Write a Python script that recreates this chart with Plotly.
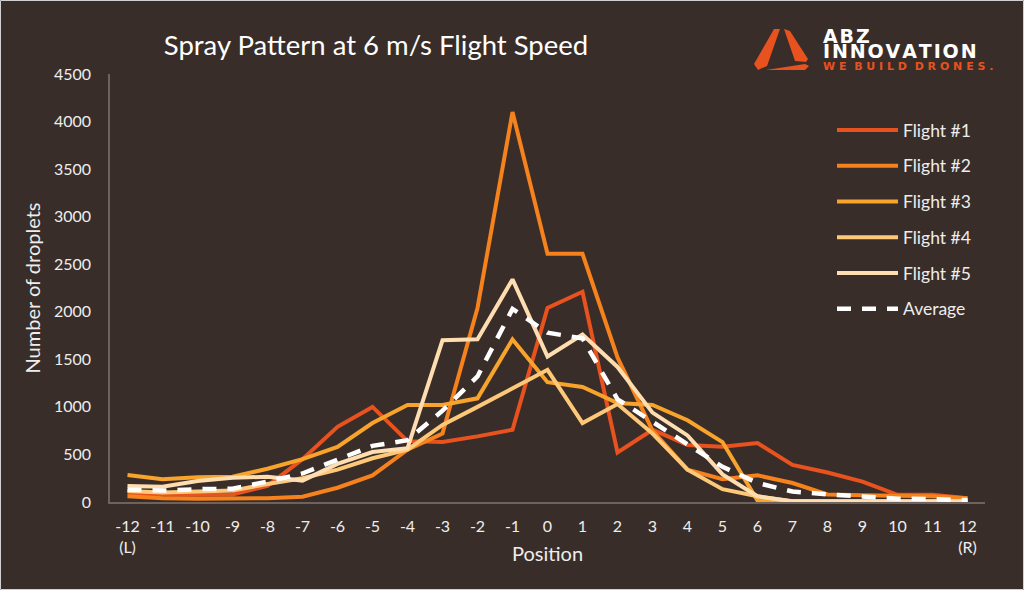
import plotly.graph_objects as go

positions = list(range(-12, 13))
tick_text = ["-12<br>(L)"] + [str(p) for p in range(-11, 12)] + ["12<br>(R)"]

flight_1 = [90, 75, 75, 80, 170, 450, 790, 1000, 640, 630, 690, 760, 2040,
            2210, 520, 760, 600, 580, 620, 390, 310, 215, 75, 75, 40]
flight_2 = [60, 40, 35, 35, 40, 55, 150, 280, 550, 720, 2040, 4100, 2610,
            2610, 1520, 750, 340, 240, 280, 200, 80, 70, 70, 60, 40]
flight_3 = [285, 240, 260, 265, 350, 450, 580, 830, 1020, 1020, 1090, 1710, 1260,
            1210, 1040, 1020, 860, 630, 15, 5, 5, 5, 5, 5, 5]
flight_4 = [115, 100, 110, 120, 190, 250, 340, 460, 550, 810, 1000, 1200, 1390,
            830, 1030, 720, 340, 135, 60, 5, 5, 5, 5, 5, 5]
flight_5 = [168, 160, 220, 255, 265, 225, 400, 525, 565, 1700, 1710, 2340, 1530,
            1760, 1420, 940, 700, 290, 60, 8, 8, 8, 8, 8, 8]
average = [130, 120, 135, 140, 215, 300, 445, 590, 650, 960, 1320, 2030, 1780,
           1720, 1080, 840, 600, 370, 200, 110, 80, 60, 35, 30, 20]

series = [
    ("Flight #1", flight_1, "#E8521E"),
    ("Flight #2", flight_2, "#F5821C"),
    ("Flight #3", flight_3, "#F8A42C"),
    ("Flight #4", flight_4, "#FDC878"),
    ("Flight #5", flight_5, "#FEDDB0"),
]

BG = "#392D29"
AXIS = "#6E625E"
TEXT = "#EDEDED"
FONT = "Lato"

# plot area in pixels (figure is 1024x590)
ML, MR, MT, MB = 110, 39, 74, 88
PW = 1024 - ML - MR
PH = 590 - MT - MB


def px(x, y):
    # pixel -> paper coords
    return (x - ML) / PW, (590 - MB - y) / PH


def path(points):
    pts = [px(x, y) for x, y in points]
    return "M " + " L ".join(f"{a:.4f},{b:.4f}" for a, b in pts) + " Z"


fig = go.Figure()
for i, (name, vals, color) in enumerate(series):
    fig.add_trace(go.Scatter(
        x=positions, y=vals, name=name, mode="lines",
        line=dict(color=color, width=4), legendgroup=f"g{i}",
    ))
fig.add_trace(go.Scatter(
    x=positions, y=average, name="Average", mode="lines",
    line=dict(color="#FFFFFF", width=4.5, dash="14px,11px"), legendgroup="avg",
))

fig.update_xaxes(
    range=[-12.5, 12.5], tickvals=positions, ticktext=tick_text,
    showgrid=False, zeroline=False, showline=True, linecolor=AXIS, linewidth=1.5,
    tickfont=dict(color=TEXT, size=16, family=FONT),
    ticks="", ticklen=0, ticklabelstandoff=9,
)
fig.update_yaxes(
    range=[0, 4500], dtick=500, showgrid=False, zeroline=False,
    showline=True, linecolor=AXIS, linewidth=1.5,
    tickfont=dict(color=TEXT, size=16, family=FONT), ticks="", ticklabelstandoff=14,
    title=dict(text="Number of droplets", font=dict(color=TEXT, size=20, family=FONT), standoff=8),
)

# logo: triangle made of three pieces
logo_color = "#E8521E"
pieces = [
    [(774, 29), (780, 29), (767, 66), (758, 70), (754, 64)],
    [(784, 29), (790, 31), (808, 59), (806, 62), (795, 61)],
    [(766, 70), (805, 64), (809, 66), (805, 70)],
]
shapes = [dict(type="path", path=path(p), xref="paper", yref="paper",
               fillcolor=logo_color, line=dict(width=0)) for p in pieces]
# thin light frame around the whole picture
shapes.append(dict(type="rect", xref="paper", yref="paper",
                   x0=px(0.5, 0)[0], x1=px(1023.5, 0)[0],
                   y0=px(0, 589.5)[1], y1=px(0, 0.5)[1],
                   line=dict(color="#D0D0D0", width=1)))

HS = "\u200a"  # hair space to widen the logo lettering a little
annotations = []
lx, ly = px(821, 36)
annotations.append(dict(text="<b>" + HS.join("ABZ") + "</b>", x=lx, y=ly,
                        xref="paper", yref="paper", xanchor="left", yanchor="middle",
                        showarrow=False,
                        font=dict(color="#FFFFFF", size=19, family="DejaVu Sans")))
lx, ly = px(821, 51)
annotations.append(dict(text="<b>" + HS.join("INNOVATION") + "</b>", x=lx, y=ly,
                        xref="paper", yref="paper", xanchor="left", yanchor="middle",
                        showarrow=False,
                        font=dict(color="#FFFFFF", size=19, family="DejaVu Sans")))
lx, ly = px(821, 66)
annotations.append(dict(text="<b>W E  B U I L D  D R O N E S .</b>", x=lx, y=ly,
                        xref="paper", yref="paper", xanchor="left", yanchor="middle",
                        showarrow=False,
                        font=dict(color=logo_color, size=11, family="DejaVu Sans")))
lx, ly = px(547, 553)
annotations.append(dict(text="Position", x=lx, y=ly, xref="paper", yref="paper",
                        xanchor="center", yanchor="middle", showarrow=False,
                        font=dict(color=TEXT, size=20, family=FONT)))

fig.update_layout(
    width=1024, height=590,
    margin=dict(l=ML, r=MR, t=MT, b=MB),
    paper_bgcolor=BG, plot_bgcolor=BG,
    title=dict(text="Spray Pattern at 6 m/s Flight Speed", x=376 / 1024, xanchor="center",
               y=1 - 45 / 590, yanchor="middle",
               font=dict(color="#FFFFFF", size=27.5, family=FONT)),
    legend=dict(x=px(832, 0)[0], y=px(0, 112)[1], xanchor="left", yanchor="top",
                bgcolor="rgba(0,0,0,0)", font=dict(color=TEXT, size=17.5, family=FONT),
                tracegroupgap=10, itemwidth=61),
    shapes=shapes,
    annotations=annotations,
)

fig.write_html("out.html", config={"displayModeBar": False},
               post_script="document.body.style.margin='0';")
